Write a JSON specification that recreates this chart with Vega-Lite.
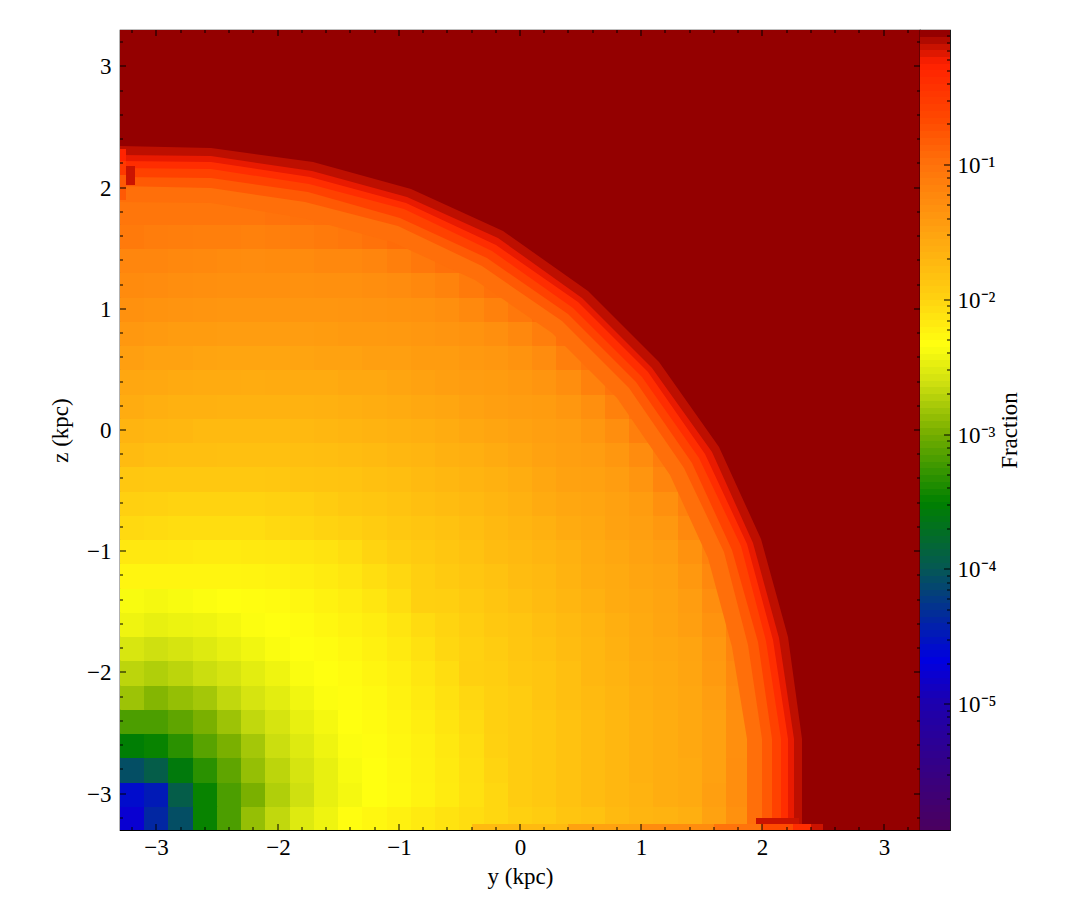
{"$schema":"https://vega.github.io/schema/vega-lite/v6.json","padding":{"left":48,"top":28,"right":5,"bottom":5},"background":"white","bounds":"flush","config":{"view":{"stroke":"#000","strokeWidth":1.2},"font":"Liberation Serif","axis":{"grid":false,"ticks":false,"labelFont":"Liberation Serif","titleFont":"Liberation Serif","labelFontSize":23,"titleFontSize":23,"titleFontWeight":"normal","labelColor":"#000","titleColor":"#000","domain":false,"labelFlush":false,"labelOverlap":false}},"spacing":0,"datasets":{"ticks":[
{"v":-3,"a":-3.3,"b":-3.25},{"v":-2,"a":-3.3,"b":-3.25},{"v":-1,"a":-3.3,"b":-3.25},{"v":0,"a":-3.3,"b":-3.25},{"v":1,"a":-3.3,"b":-3.25},{"v":2,"a":-3.3,"b":-3.25},{"v":3,"a":-3.3,"b":-3.25},
{"v":-3,"a":3.3,"b":3.25},{"v":-2,"a":3.3,"b":3.25},{"v":-1,"a":3.3,"b":3.25},{"v":0,"a":3.3,"b":3.25},{"v":1,"a":3.3,"b":3.25},{"v":2,"a":3.3,"b":3.25},{"v":3,"a":3.3,"b":3.25},
{"v":-3.2,"a":-3.3,"b":-3.275},{"v":-2.8,"a":-3.3,"b":-3.275},{"v":-2.6,"a":-3.3,"b":-3.275},{"v":-2.4,"a":-3.3,"b":-3.275},{"v":-2.2,"a":-3.3,"b":-3.275},{"v":-1.8,"a":-3.3,"b":-3.275},{"v":-1.6,"a":-3.3,"b":-3.275},{"v":-1.4,"a":-3.3,"b":-3.275},{"v":-1.2,"a":-3.3,"b":-3.275},{"v":-0.8,"a":-3.3,"b":-3.275},{"v":-0.6,"a":-3.3,"b":-3.275},{"v":-0.4,"a":-3.3,"b":-3.275},{"v":-0.2,"a":-3.3,"b":-3.275},{"v":0.2,"a":-3.3,"b":-3.275},{"v":0.4,"a":-3.3,"b":-3.275},{"v":0.6,"a":-3.3,"b":-3.275},{"v":0.8,"a":-3.3,"b":-3.275},{"v":1.2,"a":-3.3,"b":-3.275},{"v":1.4,"a":-3.3,"b":-3.275},{"v":1.6,"a":-3.3,"b":-3.275},{"v":1.8,"a":-3.3,"b":-3.275},{"v":2.2,"a":-3.3,"b":-3.275},{"v":2.4,"a":-3.3,"b":-3.275},{"v":2.6,"a":-3.3,"b":-3.275},{"v":2.8,"a":-3.3,"b":-3.275},{"v":3.2,"a":-3.3,"b":-3.275},
{"v":-3.2,"a":3.3,"b":3.275},{"v":-2.8,"a":3.3,"b":3.275},{"v":-2.6,"a":3.3,"b":3.275},{"v":-2.4,"a":3.3,"b":3.275},{"v":-2.2,"a":3.3,"b":3.275},{"v":-1.8,"a":3.3,"b":3.275},{"v":-1.6,"a":3.3,"b":3.275},{"v":-1.4,"a":3.3,"b":3.275},{"v":-1.2,"a":3.3,"b":3.275},{"v":-0.8,"a":3.3,"b":3.275},{"v":-0.6,"a":3.3,"b":3.275},{"v":-0.4,"a":3.3,"b":3.275},{"v":-0.2,"a":3.3,"b":3.275},{"v":0.2,"a":3.3,"b":3.275},{"v":0.4,"a":3.3,"b":3.275},{"v":0.6,"a":3.3,"b":3.275},{"v":0.8,"a":3.3,"b":3.275},{"v":1.2,"a":3.3,"b":3.275},{"v":1.4,"a":3.3,"b":3.275},{"v":1.6,"a":3.3,"b":3.275},{"v":1.8,"a":3.3,"b":3.275},{"v":2.2,"a":3.3,"b":3.275},{"v":2.4,"a":3.3,"b":3.275},{"v":2.6,"a":3.3,"b":3.275},{"v":2.8,"a":3.3,"b":3.275},{"v":3.2,"a":3.3,"b":3.275}
],"barticks":[
{"v":1e-5,"a":0.8},{"v":1e-4,"a":0.8},{"v":1e-3,"a":0.8},{"v":1e-2,"a":0.8},{"v":1e-1,"a":0.8},
{"v":2e-6,"a":0.9},{"v":3e-6,"a":0.9},{"v":4e-6,"a":0.9},{"v":5e-6,"a":0.9},{"v":6e-6,"a":0.9},{"v":7e-6,"a":0.9},{"v":8e-6,"a":0.9},{"v":9e-6,"a":0.9},{"v":2e-5,"a":0.9},{"v":3e-5,"a":0.9},{"v":4e-5,"a":0.9},{"v":5e-5,"a":0.9},{"v":6e-5,"a":0.9},{"v":7e-5,"a":0.9},{"v":8e-5,"a":0.9},{"v":9e-5,"a":0.9},{"v":2e-4,"a":0.9},{"v":3e-4,"a":0.9},{"v":4e-4,"a":0.9},{"v":5e-4,"a":0.9},{"v":6e-4,"a":0.9},{"v":7e-4,"a":0.9},{"v":8e-4,"a":0.9},{"v":9e-4,"a":0.9},{"v":2e-3,"a":0.9},{"v":3e-3,"a":0.9},{"v":4e-3,"a":0.9},{"v":5e-3,"a":0.9},{"v":6e-3,"a":0.9},{"v":7e-3,"a":0.9},{"v":8e-3,"a":0.9},{"v":9e-3,"a":0.9},{"v":2e-2,"a":0.9},{"v":3e-2,"a":0.9},{"v":4e-2,"a":0.9},{"v":5e-2,"a":0.9},{"v":6e-2,"a":0.9},{"v":7e-2,"a":0.9},{"v":8e-2,"a":0.9},{"v":9e-2,"a":0.9},{"v":0.2,"a":0.9},{"v":0.3,"a":0.9},{"v":0.4,"a":0.9},{"v":0.5,"a":0.9},{"v":0.6,"a":0.9},{"v":0.7,"a":0.9},{"v":0.8,"a":0.9},{"v":0.9,"a":0.9}
],"strips":[
{"y0":-3.3,"y1":-3.25,"z0":1.9,"z1":2.1,"f":0.15},{"y0":-3.3,"y1":-3.25,"z0":2.1,"z1":2.22,"f":0.3},{"y0":-3.3,"y1":-3.25,"z0":2.22,"z1":2.32,"f":0.5},{"y0":-3.25,"y1":-3.18,"z0":2.02,"z1":2.18,"f":0.7},
{"y0":-0.4,"y1":0.4,"z0":-3.3,"z1":-3.25,"f":0.017},{"y0":0.4,"y1":1,"z0":-3.3,"z1":-3.25,"f":0.03},{"y0":1,"y1":1.6,"z0":-3.3,"z1":-3.25,"f":0.05},{"y0":1.6,"y1":2,"z0":-3.3,"z1":-3.25,"f":0.09},{"y0":2,"y1":2.25,"z0":-3.3,"z1":-3.25,"f":0.2},{"y0":2.25,"y1":2.4,"z0":-3.3,"z1":-3.25,"f":0.4},{"y0":2.4,"y1":2.5,"z0":-3.3,"z1":-3.25,"f":0.7},{"y0":1.95,"y1":2.3,"z0":-3.25,"z1":-3.2,"f":0.7}
],"edge":[
{"y":1.87,"z":-3.3,"f":0.1},{"y":1.87,"z":-2.55,"f":0.1},{"y":1.75,"z":-1.79,"f":0.1},{"y":1.55,"z":-1.06,"f":0.1},{"y":1.24,"z":-0.37,"f":0.1},{"y":0.8,"z":0.26,"f":0.1},{"y":0.26,"z":0.8,"f":0.1},{"y":-0.37,"z":1.24,"f":0.1},{"y":-1.06,"z":1.55,"f":0.1},{"y":-1.79,"z":1.75,"f":0.1},{"y":-2.55,"z":1.87,"f":0.1},{"y":-3.3,"z":1.88,"f":0.1},{"y":-3.3,"z":3.3,"f":0.1},
{"y":2.0,"z":-3.3,"f":0.15},{"y":2.0,"z":-2.55,"f":0.15},{"y":1.88,"z":-1.77,"f":0.15},{"y":1.68,"z":-1.01,"f":0.15},{"y":1.35,"z":-0.31,"f":0.15},{"y":0.9,"z":0.35,"f":0.15},{"y":0.35,"z":0.9,"f":0.15},{"y":-0.31,"z":1.35,"f":0.15},{"y":-1.01,"z":1.68,"f":0.15},{"y":-1.77,"z":1.88,"f":0.15},{"y":-2.55,"z":2.0,"f":0.15},{"y":-3.3,"z":2.01,"f":0.15},{"y":-3.3,"z":3.3,"f":0.15},
{"y":2.08,"z":-3.3,"f":0.25},{"y":2.08,"z":-2.55,"f":0.25},{"y":1.96,"z":-1.75,"f":0.25},{"y":1.75,"z":-0.99,"f":0.25},{"y":1.42,"z":-0.27,"f":0.25},{"y":0.96,"z":0.4,"f":0.25},{"y":0.4,"z":0.96,"f":0.25},{"y":-0.27,"z":1.42,"f":0.25},{"y":-0.99,"z":1.75,"f":0.25},{"y":-1.75,"z":1.96,"f":0.25},{"y":-2.55,"z":2.08,"f":0.25},{"y":-3.3,"z":2.09,"f":0.25},{"y":-3.3,"z":3.3,"f":0.25},
{"y":2.15,"z":-3.3,"f":0.4},{"y":2.15,"z":-2.55,"f":0.4},{"y":2.03,"z":-1.74,"f":0.4},{"y":1.82,"z":-0.96,"f":0.4},{"y":1.48,"z":-0.23,"f":0.4},{"y":1.01,"z":0.44,"f":0.4},{"y":0.44,"z":1.01,"f":0.4},{"y":-0.23,"z":1.48,"f":0.4},{"y":-0.96,"z":1.82,"f":0.4},{"y":-1.74,"z":2.03,"f":0.4},{"y":-2.55,"z":2.15,"f":0.4},{"y":-3.3,"z":2.16,"f":0.4},{"y":-3.3,"z":3.3,"f":0.4},
{"y":2.21,"z":-3.3,"f":0.6},{"y":2.21,"z":-2.55,"f":0.6},{"y":2.09,"z":-1.73,"f":0.6},{"y":1.87,"z":-0.94,"f":0.6},{"y":1.53,"z":-0.2,"f":0.6},{"y":1.06,"z":0.48,"f":0.6},{"y":0.48,"z":1.06,"f":0.6},{"y":-0.2,"z":1.53,"f":0.6},{"y":-0.94,"z":1.87,"f":0.6},{"y":-1.73,"z":2.09,"f":0.6},{"y":-2.55,"z":2.21,"f":0.6},{"y":-3.3,"z":2.22,"f":0.6},{"y":-3.3,"z":3.3,"f":0.6},
{"y":2.26,"z":-3.3,"f":0.75},{"y":2.26,"z":-2.55,"f":0.75},{"y":2.14,"z":-1.72,"f":0.75},{"y":1.92,"z":-0.93,"f":0.75},{"y":1.58,"z":-0.18,"f":0.75},{"y":1.09,"z":0.51,"f":0.75},{"y":0.51,"z":1.09,"f":0.75},{"y":-0.18,"z":1.58,"f":0.75},{"y":-0.93,"z":1.92,"f":0.75},{"y":-1.72,"z":2.14,"f":0.75},{"y":-2.55,"z":2.26,"f":0.75},{"y":-3.3,"z":2.27,"f":0.75},{"y":-3.3,"z":3.3,"f":0.75},
{"y":2.33,"z":-3.3,"f":0.9},{"y":2.33,"z":-2.55,"f":0.9},{"y":2.21,"z":-1.71,"f":0.9},{"y":1.99,"z":-0.9,"f":0.9},{"y":1.64,"z":-0.14,"f":0.9},{"y":1.15,"z":0.56,"f":0.9},{"y":0.56,"z":1.15,"f":0.9},{"y":-0.14,"z":1.64,"f":0.9},{"y":-0.9,"z":1.99,"f":0.9},{"y":-1.71,"z":2.21,"f":0.9},{"y":-2.55,"z":2.33,"f":0.9},{"y":-3.3,"z":2.34,"f":0.9},{"y":-3.3,"z":3.3,"f":0.9}
],"bar":[
{"lo":1.17e-6,"hi":1.26e-6},{"lo":1.26e-6,"hi":1.41e-6},{"lo":1.41e-6,"hi":1.58e-6},{"lo":1.58e-6,"hi":1.78e-6},{"lo":1.78e-6,"hi":2e-6},{"lo":2e-6,"hi":2.24e-6},{"lo":2.24e-6,"hi":2.51e-6},{"lo":2.51e-6,"hi":2.82e-6},{"lo":2.82e-6,"hi":3.16e-6},{"lo":3.16e-6,"hi":3.55e-6},{"lo":3.55e-6,"hi":3.98e-6},{"lo":3.98e-6,"hi":4.47e-6},{"lo":4.47e-6,"hi":5.01e-6},{"lo":5.01e-6,"hi":5.62e-6},{"lo":5.62e-6,"hi":6.31e-6},{"lo":6.31e-6,"hi":7.08e-6},{"lo":7.08e-6,"hi":7.94e-6},{"lo":7.94e-6,"hi":8.91e-6},{"lo":8.91e-6,"hi":1e-5},
{"lo":1e-5,"hi":1.12e-5},{"lo":1.12e-5,"hi":1.26e-5},{"lo":1.26e-5,"hi":1.41e-5},{"lo":1.41e-5,"hi":1.58e-5},{"lo":1.58e-5,"hi":1.78e-5},{"lo":1.78e-5,"hi":2e-5},{"lo":2e-5,"hi":2.24e-5},{"lo":2.24e-5,"hi":2.51e-5},{"lo":2.51e-5,"hi":2.82e-5},{"lo":2.82e-5,"hi":3.16e-5},{"lo":3.16e-5,"hi":3.55e-5},{"lo":3.55e-5,"hi":3.98e-5},{"lo":3.98e-5,"hi":4.47e-5},{"lo":4.47e-5,"hi":5.01e-5},{"lo":5.01e-5,"hi":5.62e-5},{"lo":5.62e-5,"hi":6.31e-5},{"lo":6.31e-5,"hi":7.08e-5},{"lo":7.08e-5,"hi":7.94e-5},{"lo":7.94e-5,"hi":8.91e-5},{"lo":8.91e-5,"hi":1e-4},
{"lo":1e-4,"hi":1.12e-4},{"lo":1.12e-4,"hi":1.26e-4},{"lo":1.26e-4,"hi":1.41e-4},{"lo":1.41e-4,"hi":1.58e-4},{"lo":1.58e-4,"hi":1.78e-4},{"lo":1.78e-4,"hi":2e-4},{"lo":2e-4,"hi":2.24e-4},{"lo":2.24e-4,"hi":2.51e-4},{"lo":2.51e-4,"hi":2.82e-4},{"lo":2.82e-4,"hi":3.16e-4},{"lo":3.16e-4,"hi":3.55e-4},{"lo":3.55e-4,"hi":3.98e-4},{"lo":3.98e-4,"hi":4.47e-4},{"lo":4.47e-4,"hi":5.01e-4},{"lo":5.01e-4,"hi":5.62e-4},{"lo":5.62e-4,"hi":6.31e-4},{"lo":6.31e-4,"hi":7.08e-4},{"lo":7.08e-4,"hi":7.94e-4},{"lo":7.94e-4,"hi":8.91e-4},{"lo":8.91e-4,"hi":1e-3},
{"lo":1e-3,"hi":1.12e-3},{"lo":1.12e-3,"hi":1.26e-3},{"lo":1.26e-3,"hi":1.41e-3},{"lo":1.41e-3,"hi":1.58e-3},{"lo":1.58e-3,"hi":1.78e-3},{"lo":1.78e-3,"hi":2e-3},{"lo":2e-3,"hi":2.24e-3},{"lo":2.24e-3,"hi":2.51e-3},{"lo":2.51e-3,"hi":2.82e-3},{"lo":2.82e-3,"hi":3.16e-3},{"lo":3.16e-3,"hi":3.55e-3},{"lo":3.55e-3,"hi":3.98e-3},{"lo":3.98e-3,"hi":4.47e-3},{"lo":4.47e-3,"hi":5.01e-3},{"lo":5.01e-3,"hi":5.62e-3},{"lo":5.62e-3,"hi":6.31e-3},{"lo":6.31e-3,"hi":7.08e-3},{"lo":7.08e-3,"hi":7.94e-3},{"lo":7.94e-3,"hi":8.91e-3},{"lo":8.91e-3,"hi":1e-2},
{"lo":1e-2,"hi":1.12e-2},{"lo":1.12e-2,"hi":1.26e-2},{"lo":1.26e-2,"hi":1.41e-2},{"lo":1.41e-2,"hi":1.58e-2},{"lo":1.58e-2,"hi":1.78e-2},{"lo":1.78e-2,"hi":2e-2},{"lo":2e-2,"hi":2.24e-2},{"lo":2.24e-2,"hi":2.51e-2},{"lo":2.51e-2,"hi":2.82e-2},{"lo":2.82e-2,"hi":3.16e-2},{"lo":3.16e-2,"hi":3.55e-2},{"lo":3.55e-2,"hi":3.98e-2},{"lo":3.98e-2,"hi":4.47e-2},{"lo":4.47e-2,"hi":5.01e-2},{"lo":5.01e-2,"hi":5.62e-2},{"lo":5.62e-2,"hi":6.31e-2},{"lo":6.31e-2,"hi":7.08e-2},{"lo":7.08e-2,"hi":7.94e-2},{"lo":7.94e-2,"hi":8.91e-2},{"lo":8.91e-2,"hi":0.1},
{"lo":0.1,"hi":0.112},{"lo":0.112,"hi":0.126},{"lo":0.126,"hi":0.141},{"lo":0.141,"hi":0.158},{"lo":0.158,"hi":0.178},{"lo":0.178,"hi":0.2},{"lo":0.2,"hi":0.224},{"lo":0.224,"hi":0.251},{"lo":0.251,"hi":0.282},{"lo":0.282,"hi":0.316},{"lo":0.316,"hi":0.355},{"lo":0.355,"hi":0.398},{"lo":0.398,"hi":0.447},{"lo":0.447,"hi":0.501},{"lo":0.501,"hi":0.562},{"lo":0.562,"hi":0.631},{"lo":0.631,"hi":0.708},{"lo":0.708,"hi":0.794},{"lo":0.794,"hi":0.891},{"lo":0.891,"hi":1}
],"cells":[
{"y":-3.2,"z":-3.2,"f":1.6e-5},{"y":-3,"z":-3.2,"f":4e-5},{"y":-2.8,"z":-3.2,"f":8e-5},{"y":-2.6,"z":-3.2,"f":3.2e-4},{"y":-2.4,"z":-3.2,"f":6.3e-4},{"y":-2.2,"z":-3.2,"f":0.0013},{"y":-2,"z":-3.2,"f":0.002},{"y":-1.8,"z":-3.2,"f":0.0028},{"y":-1.6,"z":-3.2,"f":0.0035},{"y":-1.4,"z":-3.2,"f":0.0045},{"y":-1.2,"z":-3.2,"f":0.005},{"y":-1,"z":-3.2,"f":0.0056},{"y":-0.8,"z":-3.2,"f":0.0063},{"y":-0.6,"z":-3.2,"f":0.0071},{"y":-0.4,"z":-3.2,"f":0.0079},{"y":-0.2,"z":-3.2,"f":0.0089},{"y":0,"z":-3.2,"f":0.01},{"y":0.2,"z":-3.2,"f":0.011},{"y":0.4,"z":-3.2,"f":0.013},{"y":0.6,"z":-3.2,"f":0.014},{"y":0.8,"z":-3.2,"f":0.017},{"y":1,"z":-3.2,"f":0.019},{"y":1.2,"z":-3.2,"f":0.02},{"y":1.4,"z":-3.2,"f":0.022},{"y":1.6,"z":-3.2,"f":0.03},{"y":1.8,"z":-3.2,"f":0.045},
{"y":-3.2,"z":-3,"f":2.5e-5},{"y":-3,"z":-3,"f":3.2e-5},{"y":-2.8,"z":-3,"f":1.1e-4},{"y":-2.6,"z":-3,"f":3.2e-4},{"y":-2.4,"z":-3,"f":6.3e-4},{"y":-2.2,"z":-3,"f":0.001},{"y":-2,"z":-3,"f":0.0017},{"y":-1.8,"z":-3,"f":0.0023},{"y":-1.6,"z":-3,"f":0.0032},{"y":-1.4,"z":-3,"f":0.0038},{"y":-1.2,"z":-3,"f":0.0044},{"y":-1,"z":-3,"f":0.0048},{"y":-0.8,"z":-3,"f":0.0054},{"y":-0.6,"z":-3,"f":0.0062},{"y":-0.4,"z":-3,"f":0.0074},{"y":-0.2,"z":-3,"f":0.0089},{"y":0,"z":-3,"f":0.011},{"y":0.2,"z":-3,"f":0.012},{"y":0.4,"z":-3,"f":0.014},{"y":0.6,"z":-3,"f":0.016},{"y":0.8,"z":-3,"f":0.018},{"y":1,"z":-3,"f":0.02},{"y":1.2,"z":-3,"f":0.023},{"y":1.4,"z":-3,"f":0.025},{"y":1.6,"z":-3,"f":0.032},{"y":1.8,"z":-3,"f":0.048},
{"y":-3.2,"z":-2.8,"f":8e-5},{"y":-3,"z":-2.8,"f":1.1e-4},{"y":-2.8,"z":-2.8,"f":2.5e-4},{"y":-2.6,"z":-2.8,"f":4.5e-4},{"y":-2.4,"z":-2.8,"f":7.6e-4},{"y":-2.2,"z":-2.8,"f":0.0013},{"y":-2,"z":-2.8,"f":0.0019},{"y":-1.8,"z":-2.8,"f":0.0025},{"y":-1.6,"z":-2.8,"f":0.0032},{"y":-1.4,"z":-2.8,"f":0.004},{"y":-1.2,"z":-2.8,"f":0.0044},{"y":-1,"z":-2.8,"f":0.0049},{"y":-0.8,"z":-2.8,"f":0.0055},{"y":-0.6,"z":-2.8,"f":0.0063},{"y":-0.4,"z":-2.8,"f":0.0076},{"y":-0.2,"z":-2.8,"f":0.0093},{"y":0,"z":-2.8,"f":0.011},{"y":0.2,"z":-2.8,"f":0.012},{"y":0.4,"z":-2.8,"f":0.014},{"y":0.6,"z":-2.8,"f":0.016},{"y":0.8,"z":-2.8,"f":0.018},{"y":1,"z":-2.8,"f":0.021},{"y":1.2,"z":-2.8,"f":0.023},{"y":1.4,"z":-2.8,"f":0.025},{"y":1.6,"z":-2.8,"f":0.031},{"y":1.8,"z":-2.8,"f":0.048},
{"y":-3.2,"z":-2.6,"f":2.8e-4},{"y":-3,"z":-2.6,"f":3.2e-4},{"y":-2.8,"z":-2.6,"f":4.5e-4},{"y":-2.6,"z":-2.6,"f":7.1e-4},{"y":-2.4,"z":-2.6,"f":0.001},{"y":-2.2,"z":-2.6,"f":0.0015},{"y":-2,"z":-2.6,"f":0.0022},{"y":-1.8,"z":-2.6,"f":0.0028},{"y":-1.6,"z":-2.6,"f":0.0035},{"y":-1.4,"z":-2.6,"f":0.0042},{"y":-1.2,"z":-2.6,"f":0.0045},{"y":-1,"z":-2.6,"f":0.005},{"y":-0.8,"z":-2.6,"f":0.0056},{"y":-0.6,"z":-2.6,"f":0.0066},{"y":-0.4,"z":-2.6,"f":0.0078},{"y":-0.2,"z":-2.6,"f":0.0098},{"y":0,"z":-2.6,"f":0.011},{"y":0.2,"z":-2.6,"f":0.012},{"y":0.4,"z":-2.6,"f":0.014},{"y":0.6,"z":-2.6,"f":0.016},{"y":0.8,"z":-2.6,"f":0.018},{"y":1,"z":-2.6,"f":0.021},{"y":1.2,"z":-2.6,"f":0.023},{"y":1.4,"z":-2.6,"f":0.026},{"y":1.6,"z":-2.6,"f":0.031},{"y":1.8,"z":-2.6,"f":0.047},
{"y":-3.2,"z":-2.4,"f":6.3e-4},{"y":-3,"z":-2.4,"f":6.3e-4},{"y":-2.8,"z":-2.4,"f":7.6e-4},{"y":-2.6,"z":-2.4,"f":0.001},{"y":-2.4,"z":-2.4,"f":0.0014},{"y":-2.2,"z":-2.4,"f":0.002},{"y":-2,"z":-2.4,"f":0.0025},{"y":-1.8,"z":-2.4,"f":0.0032},{"y":-1.6,"z":-2.4,"f":0.0038},{"y":-1.4,"z":-2.4,"f":0.0044},{"y":-1.2,"z":-2.4,"f":0.0047},{"y":-1,"z":-2.4,"f":0.0052},{"y":-0.8,"z":-2.4,"f":0.0059},{"y":-0.6,"z":-2.4,"f":0.0069},{"y":-0.4,"z":-2.4,"f":0.0083},{"y":-0.2,"z":-2.4,"f":0.01},{"y":0,"z":-2.4,"f":0.011},{"y":0.2,"z":-2.4,"f":0.012},{"y":0.4,"z":-2.4,"f":0.014},{"y":0.6,"z":-2.4,"f":0.016},{"y":0.8,"z":-2.4,"f":0.018},{"y":1,"z":-2.4,"f":0.021},{"y":1.2,"z":-2.4,"f":0.023},{"y":1.4,"z":-2.4,"f":0.026},{"y":1.6,"z":-2.4,"f":0.031},{"y":1.8,"z":-2.4,"f":0.047},
{"y":-3.2,"z":-2.2,"f":0.0014},{"y":-3,"z":-2.2,"f":0.0011},{"y":-2.8,"z":-2.2,"f":0.0013},{"y":-2.6,"z":-2.2,"f":0.0015},{"y":-2.4,"z":-2.2,"f":0.002},{"y":-2.2,"z":-2.2,"f":0.0025},{"y":-2,"z":-2.2,"f":0.003},{"y":-1.8,"z":-2.2,"f":0.0036},{"y":-1.6,"z":-2.2,"f":0.0042},{"y":-1.4,"z":-2.2,"f":0.0045},{"y":-1.2,"z":-2.2,"f":0.0049},{"y":-1,"z":-2.2,"f":0.0055},{"y":-0.8,"z":-2.2,"f":0.0063},{"y":-0.6,"z":-2.2,"f":0.0074},{"y":-0.4,"z":-2.2,"f":0.0089},{"y":-0.2,"z":-2.2,"f":0.01},{"y":0,"z":-2.2,"f":0.011},{"y":0.2,"z":-2.2,"f":0.013},{"y":0.4,"z":-2.2,"f":0.015},{"y":0.6,"z":-2.2,"f":0.017},{"y":0.8,"z":-2.2,"f":0.019},{"y":1,"z":-2.2,"f":0.022},{"y":1.2,"z":-2.2,"f":0.024},{"y":1.4,"z":-2.2,"f":0.027},{"y":1.6,"z":-2.2,"f":0.033},{"y":1.8,"z":-2.2,"f":0.05},
{"y":-3.2,"z":-2,"f":0.0019},{"y":-3,"z":-2,"f":0.0017},{"y":-2.8,"z":-2,"f":0.0019},{"y":-2.6,"z":-2,"f":0.0022},{"y":-2.4,"z":-2,"f":0.0025},{"y":-2.2,"z":-2,"f":0.003},{"y":-2,"z":-2,"f":0.0035},{"y":-1.8,"z":-2,"f":0.0041},{"y":-1.6,"z":-2,"f":0.0044},{"y":-1.4,"z":-2,"f":0.0047},{"y":-1.2,"z":-2,"f":0.0052},{"y":-1,"z":-2,"f":0.0058},{"y":-0.8,"z":-2,"f":0.0068},{"y":-0.6,"z":-2,"f":0.0079},{"y":-0.4,"z":-2,"f":0.01},{"y":-0.2,"z":-2,"f":0.0105},{"y":0,"z":-2,"f":0.012},{"y":0.2,"z":-2,"f":0.013},{"y":0.4,"z":-2,"f":0.015},{"y":0.6,"z":-2,"f":0.018},{"y":0.8,"z":-2,"f":0.02},{"y":1,"z":-2,"f":0.023},{"y":1.2,"z":-2,"f":0.025},{"y":1.4,"z":-2,"f":0.028},{"y":1.6,"z":-2,"f":0.036},{"y":1.8,"z":-2,"f":0.054},
{"y":-3.2,"z":-1.8,"f":0.0026},{"y":-3,"z":-1.8,"f":0.0023},{"y":-2.8,"z":-1.8,"f":0.0025},{"y":-2.6,"z":-1.8,"f":0.0028},{"y":-2.4,"z":-1.8,"f":0.0032},{"y":-2.2,"z":-1.8,"f":0.0036},{"y":-2,"z":-1.8,"f":0.0041},{"y":-1.8,"z":-1.8,"f":0.0044},{"y":-1.6,"z":-1.8,"f":0.0046},{"y":-1.4,"z":-1.8,"f":0.005},{"y":-1.2,"z":-1.8,"f":0.0056},{"y":-1,"z":-1.8,"f":0.0063},{"y":-0.8,"z":-1.8,"f":0.0074},{"y":-0.6,"z":-1.8,"f":0.0089},{"y":-0.4,"z":-1.8,"f":0.0098},{"y":-0.2,"z":-1.8,"f":0.011},{"y":0,"z":-1.8,"f":0.0126},{"y":0.2,"z":-1.8,"f":0.014},{"y":0.4,"z":-1.8,"f":0.016},{"y":0.6,"z":-1.8,"f":0.018},{"y":0.8,"z":-1.8,"f":0.021},{"y":1,"z":-1.8,"f":0.024},{"y":1.2,"z":-1.8,"f":0.026},{"y":1.4,"z":-1.8,"f":0.029},{"y":1.6,"z":-1.8,"f":0.038},{"y":1.8,"z":-1.8,"f":0.059},
{"y":-3.2,"z":-1.6,"f":0.0035},{"y":-3,"z":-1.6,"f":0.0032},{"y":-2.8,"z":-1.6,"f":0.0034},{"y":-2.6,"z":-1.6,"f":0.0035},{"y":-2.4,"z":-1.6,"f":0.0038},{"y":-2.2,"z":-1.6,"f":0.0042},{"y":-2,"z":-1.6,"f":0.0044},{"y":-1.8,"z":-1.6,"f":0.0046},{"y":-1.6,"z":-1.6,"f":0.005},{"y":-1.4,"z":-1.6,"f":0.0055},{"y":-1.2,"z":-1.6,"f":0.006},{"y":-1,"z":-1.6,"f":0.0069},{"y":-0.8,"z":-1.6,"f":0.0083},{"y":-0.6,"z":-1.6,"f":0.0093},{"y":-0.4,"z":-1.6,"f":0.0105},{"y":-0.2,"z":-1.6,"f":0.012},{"y":0,"z":-1.6,"f":0.013},{"y":0.2,"z":-1.6,"f":0.015},{"y":0.4,"z":-1.6,"f":0.017},{"y":0.6,"z":-1.6,"f":0.019},{"y":0.8,"z":-1.6,"f":0.022},{"y":1,"z":-1.6,"f":0.025},{"y":1.2,"z":-1.6,"f":0.028},{"y":1.4,"z":-1.6,"f":0.032},{"y":1.6,"z":-1.6,"f":0.043},{"y":1.8,"z":-1.6,"f":0.065},
{"y":-3.2,"z":-1.4,"f":0.004},{"y":-3,"z":-1.4,"f":0.0038},{"y":-2.8,"z":-1.4,"f":0.004},{"y":-2.6,"z":-1.4,"f":0.0042},{"y":-2.4,"z":-1.4,"f":0.0044},{"y":-2.2,"z":-1.4,"f":0.0045},{"y":-2,"z":-1.4,"f":0.0047},{"y":-1.8,"z":-1.4,"f":0.005},{"y":-1.6,"z":-1.4,"f":0.0055},{"y":-1.4,"z":-1.4,"f":0.006},{"y":-1.2,"z":-1.4,"f":0.0068},{"y":-1,"z":-1.4,"f":0.0079},{"y":-0.8,"z":-1.4,"f":0.01},{"y":-0.6,"z":-1.4,"f":0.0102},{"y":-0.4,"z":-1.4,"f":0.0115},{"y":-0.2,"z":-1.4,"f":0.013},{"y":0,"z":-1.4,"f":0.0145},{"y":0.2,"z":-1.4,"f":0.0166},{"y":0.4,"z":-1.4,"f":0.0186},{"y":0.6,"z":-1.4,"f":0.021},{"y":0.8,"z":-1.4,"f":0.024},{"y":1,"z":-1.4,"f":0.026},{"y":1.2,"z":-1.4,"f":0.029},{"y":1.4,"z":-1.4,"f":0.034},{"y":1.6,"z":-1.4,"f":0.048},{"y":1.8,"z":-1.4,"f":0.074},
{"y":-3.2,"z":-1.2,"f":0.0052},{"y":-3,"z":-1.2,"f":0.0052},{"y":-2.8,"z":-1.2,"f":0.0052},{"y":-2.6,"z":-1.2,"f":0.0052},{"y":-2.4,"z":-1.2,"f":0.0052},{"y":-2.2,"z":-1.2,"f":0.0053},{"y":-2,"z":-1.2,"f":0.0055},{"y":-1.8,"z":-1.2,"f":0.0058},{"y":-1.6,"z":-1.2,"f":0.0062},{"y":-1.4,"z":-1.2,"f":0.0068},{"y":-1.2,"z":-1.2,"f":0.0078},{"y":-1,"z":-1.2,"f":0.0089},{"y":-0.8,"z":-1.2,"f":0.0102},{"y":-0.6,"z":-1.2,"f":0.0115},{"y":-0.4,"z":-1.2,"f":0.0126},{"y":-0.2,"z":-1.2,"f":0.014},{"y":0,"z":-1.2,"f":0.016},{"y":0.2,"z":-1.2,"f":0.0174},{"y":0.4,"z":-1.2,"f":0.02},{"y":0.6,"z":-1.2,"f":0.023},{"y":0.8,"z":-1.2,"f":0.025},{"y":1,"z":-1.2,"f":0.028},{"y":1.2,"z":-1.2,"f":0.03},{"y":1.4,"z":-1.2,"f":0.038},{"y":1.6,"z":-1.2,"f":0.056},{"y":1.8,"z":-1.2,"f":0.08},
{"y":-3.2,"z":-1,"f":0.0066},{"y":-3,"z":-1,"f":0.0066},{"y":-2.8,"z":-1,"f":0.0064},{"y":-2.6,"z":-1,"f":0.0062},{"y":-2.4,"z":-1,"f":0.0062},{"y":-2.2,"z":-1,"f":0.0064},{"y":-2,"z":-1,"f":0.0066},{"y":-1.8,"z":-1,"f":0.0068},{"y":-1.6,"z":-1,"f":0.0072},{"y":-1.4,"z":-1,"f":0.0079},{"y":-1.2,"z":-1,"f":0.0093},{"y":-1,"z":-1,"f":0.0105},{"y":-0.8,"z":-1,"f":0.0115},{"y":-0.6,"z":-1,"f":0.0126},{"y":-0.4,"z":-1,"f":0.014},{"y":-0.2,"z":-1,"f":0.016},{"y":0,"z":-1,"f":0.0174},{"y":0.2,"z":-1,"f":0.019},{"y":0.4,"z":-1,"f":0.021},{"y":0.6,"z":-1,"f":0.0245},{"y":0.8,"z":-1,"f":0.027},{"y":1,"z":-1,"f":0.03},{"y":1.2,"z":-1,"f":0.033},{"y":1.4,"z":-1,"f":0.044},{"y":1.6,"z":-1,"f":0.066},
{"y":-3.2,"z":-0.8,"f":0.0085},{"y":-3,"z":-0.8,"f":0.0082},{"y":-2.8,"z":-0.8,"f":0.008},{"y":-2.6,"z":-0.8,"f":0.008},{"y":-2.4,"z":-0.8,"f":0.008},{"y":-2.2,"z":-0.8,"f":0.008},{"y":-2,"z":-0.8,"f":0.0085},{"y":-1.8,"z":-0.8,"f":0.0089},{"y":-1.6,"z":-0.8,"f":0.0095},{"y":-1.4,"z":-0.8,"f":0.01},{"y":-1.2,"z":-0.8,"f":0.011},{"y":-1,"z":-0.8,"f":0.012},{"y":-0.8,"z":-0.8,"f":0.0129},{"y":-0.6,"z":-0.8,"f":0.014},{"y":-0.4,"z":-0.8,"f":0.0155},{"y":-0.2,"z":-0.8,"f":0.0174},{"y":0,"z":-0.8,"f":0.019},{"y":0.2,"z":-0.8,"f":0.021},{"y":0.4,"z":-0.8,"f":0.024},{"y":0.6,"z":-0.8,"f":0.026},{"y":0.8,"z":-0.8,"f":0.03},{"y":1,"z":-0.8,"f":0.032},{"y":1.2,"z":-0.8,"f":0.038},{"y":1.4,"z":-0.8,"f":0.054},{"y":1.6,"z":-0.8,"f":0.08},
{"y":-3.2,"z":-0.6,"f":0.01},{"y":-3,"z":-0.6,"f":0.0098},{"y":-2.8,"z":-0.6,"f":0.0095},{"y":-2.6,"z":-0.6,"f":0.0095},{"y":-2.4,"z":-0.6,"f":0.0095},{"y":-2.2,"z":-0.6,"f":0.0095},{"y":-2,"z":-0.6,"f":0.0098},{"y":-1.8,"z":-0.6,"f":0.01},{"y":-1.6,"z":-0.6,"f":0.011},{"y":-1.4,"z":-0.6,"f":0.012},{"y":-1.2,"z":-0.6,"f":0.0126},{"y":-1,"z":-0.6,"f":0.0138},{"y":-0.8,"z":-0.6,"f":0.015},{"y":-0.6,"z":-0.6,"f":0.016},{"y":-0.4,"z":-0.6,"f":0.0174},{"y":-0.2,"z":-0.6,"f":0.019},{"y":0,"z":-0.6,"f":0.021},{"y":0.2,"z":-0.6,"f":0.024},{"y":0.4,"z":-0.6,"f":0.027},{"y":0.6,"z":-0.6,"f":0.028},{"y":0.8,"z":-0.6,"f":0.031},{"y":1,"z":-0.6,"f":0.035},{"y":1.2,"z":-0.6,"f":0.046},{"y":1.4,"z":-0.6,"f":0.066},
{"y":-3.2,"z":-0.4,"f":0.0125},{"y":-3,"z":-0.4,"f":0.012},{"y":-2.8,"z":-0.4,"f":0.012},{"y":-2.6,"z":-0.4,"f":0.012},{"y":-2.4,"z":-0.4,"f":0.012},{"y":-2.2,"z":-0.4,"f":0.012},{"y":-2,"z":-0.4,"f":0.0125},{"y":-1.8,"z":-0.4,"f":0.013},{"y":-1.6,"z":-0.4,"f":0.0132},{"y":-1.4,"z":-0.4,"f":0.0138},{"y":-1.2,"z":-0.4,"f":0.0145},{"y":-1,"z":-0.4,"f":0.0155},{"y":-0.8,"z":-0.4,"f":0.017},{"y":-0.6,"z":-0.4,"f":0.018},{"y":-0.4,"z":-0.4,"f":0.0195},{"y":-0.2,"z":-0.4,"f":0.021},{"y":0,"z":-0.4,"f":0.023},{"y":0.2,"z":-0.4,"f":0.027},{"y":0.4,"z":-0.4,"f":0.03},{"y":0.6,"z":-0.4,"f":0.031},{"y":0.8,"z":-0.4,"f":0.034},{"y":1,"z":-0.4,"f":0.041},{"y":1.2,"z":-0.4,"f":0.059},{"y":1.4,"z":-0.4,"f":0.085},
{"y":-3.2,"z":-0.2,"f":0.0166},{"y":-3,"z":-0.2,"f":0.0155},{"y":-2.8,"z":-0.2,"f":0.015},{"y":-2.6,"z":-0.2,"f":0.015},{"y":-2.4,"z":-0.2,"f":0.0145},{"y":-2.2,"z":-0.2,"f":0.0145},{"y":-2,"z":-0.2,"f":0.0145},{"y":-1.8,"z":-0.2,"f":0.015},{"y":-1.6,"z":-0.2,"f":0.0155},{"y":-1.4,"z":-0.2,"f":0.016},{"y":-1.2,"z":-0.2,"f":0.017},{"y":-1,"z":-0.2,"f":0.018},{"y":-0.8,"z":-0.2,"f":0.019},{"y":-0.6,"z":-0.2,"f":0.021},{"y":-0.4,"z":-0.2,"f":0.022},{"y":-0.2,"z":-0.2,"f":0.0245},{"y":0,"z":-0.2,"f":0.027},{"y":0.2,"z":-0.2,"f":0.03},{"y":0.4,"z":-0.2,"f":0.032},{"y":0.6,"z":-0.2,"f":0.034},{"y":0.8,"z":-0.2,"f":0.039},{"y":1,"z":-0.2,"f":0.051},{"y":1.2,"z":-0.2,"f":0.072},
{"y":-3.2,"z":0,"f":0.0195},{"y":-3,"z":0,"f":0.0186},{"y":-2.8,"z":0,"f":0.018},{"y":-2.6,"z":0,"f":0.017},{"y":-2.4,"z":0,"f":0.017},{"y":-2.2,"z":0,"f":0.017},{"y":-2,"z":0,"f":0.017},{"y":-1.8,"z":0,"f":0.0174},{"y":-1.6,"z":0,"f":0.018},{"y":-1.4,"z":0,"f":0.019},{"y":-1.2,"z":0,"f":0.02},{"y":-1,"z":0,"f":0.021},{"y":-0.8,"z":0,"f":0.022},{"y":-0.6,"z":0,"f":0.0235},{"y":-0.4,"z":0,"f":0.026},{"y":-0.2,"z":0,"f":0.028},{"y":0,"z":0,"f":0.03},{"y":0.2,"z":0,"f":0.032},{"y":0.4,"z":0,"f":0.034},{"y":0.6,"z":0,"f":0.039},{"y":0.8,"z":0,"f":0.048},{"y":1,"z":0,"f":0.068},{"y":1.2,"z":0,"f":0.09},
{"y":-3.2,"z":0.2,"f":0.0235},{"y":-3,"z":0.2,"f":0.022},{"y":-2.8,"z":0.2,"f":0.021},{"y":-2.6,"z":0.2,"f":0.021},{"y":-2.4,"z":0.2,"f":0.0205},{"y":-2.2,"z":0.2,"f":0.0205},{"y":-2,"z":0.2,"f":0.0205},{"y":-1.8,"z":0.2,"f":0.0205},{"y":-1.6,"z":0.2,"f":0.021},{"y":-1.4,"z":0.2,"f":0.022},{"y":-1.2,"z":0.2,"f":0.023},{"y":-1,"z":0.2,"f":0.024},{"y":-0.8,"z":0.2,"f":0.026},{"y":-0.6,"z":0.2,"f":0.0275},{"y":-0.4,"z":0.2,"f":0.03},{"y":-0.2,"z":0.2,"f":0.032},{"y":0,"z":0.2,"f":0.034},{"y":0.2,"z":0.2,"f":0.035},{"y":0.4,"z":0.2,"f":0.039},{"y":0.6,"z":0.2,"f":0.047},{"y":0.8,"z":0.2,"f":0.065},{"y":1,"z":0.2,"f":0.09},
{"y":-3.2,"z":0.4,"f":0.027},{"y":-3,"z":0.4,"f":0.026},{"y":-2.8,"z":0.4,"f":0.025},{"y":-2.6,"z":0.4,"f":0.0245},{"y":-2.4,"z":0.4,"f":0.024},{"y":-2.2,"z":0.4,"f":0.0235},{"y":-2,"z":0.4,"f":0.024},{"y":-1.8,"z":0.4,"f":0.024},{"y":-1.6,"z":0.4,"f":0.0245},{"y":-1.4,"z":0.4,"f":0.026},{"y":-1.2,"z":0.4,"f":0.026},{"y":-1,"z":0.4,"f":0.028},{"y":-0.8,"z":0.4,"f":0.03},{"y":-0.6,"z":0.4,"f":0.032},{"y":-0.4,"z":0.4,"f":0.034},{"y":-0.2,"z":0.4,"f":0.035},{"y":0,"z":0.4,"f":0.037},{"y":0.2,"z":0.4,"f":0.041},{"y":0.4,"z":0.4,"f":0.048},{"y":0.6,"z":0.4,"f":0.065},{"y":0.8,"z":0.4,"f":0.089},
{"y":-3.2,"z":0.6,"f":0.032},{"y":-3,"z":0.6,"f":0.03},{"y":-2.8,"z":0.6,"f":0.03},{"y":-2.6,"z":0.6,"f":0.029},{"y":-2.4,"z":0.6,"f":0.028},{"y":-2.2,"z":0.6,"f":0.028},{"y":-2,"z":0.6,"f":0.028},{"y":-1.8,"z":0.6,"f":0.029},{"y":-1.6,"z":0.6,"f":0.03},{"y":-1.4,"z":0.6,"f":0.03},{"y":-1.2,"z":0.6,"f":0.032},{"y":-1,"z":0.6,"f":0.032},{"y":-0.8,"z":0.6,"f":0.035},{"y":-0.6,"z":0.6,"f":0.035},{"y":-0.4,"z":0.6,"f":0.037},{"y":-0.2,"z":0.6,"f":0.039},{"y":0,"z":0.6,"f":0.043},{"y":0.2,"z":0.6,"f":0.051},{"y":0.4,"z":0.6,"f":0.068},{"y":0.6,"z":0.6,"f":0.089},
{"y":-3.2,"z":0.8,"f":0.038},{"y":-3,"z":0.8,"f":0.036},{"y":-2.8,"z":0.8,"f":0.035},{"y":-2.6,"z":0.8,"f":0.035},{"y":-2.4,"z":0.8,"f":0.034},{"y":-2.2,"z":0.8,"f":0.034},{"y":-2,"z":0.8,"f":0.034},{"y":-1.8,"z":0.8,"f":0.034},{"y":-1.6,"z":0.8,"f":0.035},{"y":-1.4,"z":0.8,"f":0.036},{"y":-1.2,"z":0.8,"f":0.036},{"y":-1,"z":0.8,"f":0.037},{"y":-0.8,"z":0.8,"f":0.039},{"y":-0.6,"z":0.8,"f":0.041},{"y":-0.4,"z":0.8,"f":0.043},{"y":-0.2,"z":0.8,"f":0.047},{"y":0,"z":0.8,"f":0.055},{"y":0.2,"z":0.8,"f":0.071},{"y":0.4,"z":0.8,"f":0.098},
{"y":-3.2,"z":1,"f":0.045},{"y":-3,"z":1,"f":0.043},{"y":-2.8,"z":1,"f":0.042},{"y":-2.6,"z":1,"f":0.041},{"y":-2.4,"z":1,"f":0.04},{"y":-2.2,"z":1,"f":0.04},{"y":-2,"z":1,"f":0.04},{"y":-1.8,"z":1,"f":0.04},{"y":-1.6,"z":1,"f":0.04},{"y":-1.4,"z":1,"f":0.041},{"y":-1.2,"z":1,"f":0.042},{"y":-1,"z":1,"f":0.043},{"y":-0.8,"z":1,"f":0.044},{"y":-0.6,"z":1,"f":0.047},{"y":-0.4,"z":1,"f":0.054},{"y":-0.2,"z":1,"f":0.065},{"y":0,"z":1,"f":0.081},{"y":0.2,"z":1,"f":0.105},
{"y":-3.2,"z":1.2,"f":0.052},{"y":-3,"z":1.2,"f":0.05},{"y":-2.8,"z":1.2,"f":0.048},{"y":-2.6,"z":1.2,"f":0.047},{"y":-2.4,"z":1.2,"f":0.046},{"y":-2.2,"z":1.2,"f":0.046},{"y":-2,"z":1.2,"f":0.046},{"y":-1.8,"z":1.2,"f":0.045},{"y":-1.6,"z":1.2,"f":0.046},{"y":-1.4,"z":1.2,"f":0.046},{"y":-1.2,"z":1.2,"f":0.048},{"y":-1,"z":1.2,"f":0.05},{"y":-0.8,"z":1.2,"f":0.055},{"y":-0.6,"z":1.2,"f":0.063},{"y":-0.4,"z":1.2,"f":0.078},{"y":-0.2,"z":1.2,"f":0.095},{"y":0,"z":1.2,"f":0.115},
{"y":-3.2,"z":1.4,"f":0.058},{"y":-3,"z":1.4,"f":0.058},{"y":-2.8,"z":1.4,"f":0.055},{"y":-2.6,"z":1.4,"f":0.054},{"y":-2.4,"z":1.4,"f":0.052},{"y":-2.2,"z":1.4,"f":0.051},{"y":-2,"z":1.4,"f":0.052},{"y":-1.8,"z":1.4,"f":0.052},{"y":-1.6,"z":1.4,"f":0.055},{"y":-1.4,"z":1.4,"f":0.056},{"y":-1.2,"z":1.4,"f":0.06},{"y":-1,"z":1.4,"f":0.069},{"y":-0.8,"z":1.4,"f":0.081},{"y":-0.6,"z":1.4,"f":0.095},{"y":-0.4,"z":1.4,"f":0.118},
{"y":-3.2,"z":1.6,"f":0.078},{"y":-3,"z":1.6,"f":0.072},{"y":-2.8,"z":1.6,"f":0.071},{"y":-2.6,"z":1.6,"f":0.069},{"y":-2.4,"z":1.6,"f":0.068},{"y":-2.2,"z":1.6,"f":0.066},{"y":-2,"z":1.6,"f":0.069},{"y":-1.8,"z":1.6,"f":0.072},{"y":-1.6,"z":1.6,"f":0.078},{"y":-1.4,"z":1.6,"f":0.083},{"y":-1.2,"z":1.6,"f":0.093},{"y":-1,"z":1.6,"f":0.105},{"y":-0.8,"z":1.6,"f":0.126},
{"y":-3.2,"z":1.8,"f":0.085},{"y":-3,"z":1.8,"f":0.085},{"y":-2.8,"z":1.8,"f":0.085},{"y":-2.6,"z":1.8,"f":0.085},{"y":-2.4,"z":1.8,"f":0.085},{"y":-2.2,"z":1.8,"f":0.085},{"y":-2,"z":1.8,"f":0.09},{"y":-1.8,"z":1.8,"f":0.095},{"y":-1.6,"z":1.8,"f":0.1},{"y":-1.4,"z":1.8,"f":0.11},{"y":-1.2,"z":1.8,"f":0.12}
]},"hconcat":[{"width":800,"height":800,"layer":[
{"data":{"name":"cells"},"mark":{"type":"rect","clip":true,"binSpacing":0,"strokeWidth":1},"encoding":{"x":{"field":"y","type":"quantitative","bin":{"step":0.2,"extent":[-3.3,3.3],"nice":false},"scale":{"domain":[-3.3,3.3],"nice":false,"zero":false,"round":true},"axis":{"orient":"bottom","values":[-3,-2,-1,0,1,2,3],"format":"d","title":"y  (kpc)","labelPadding":6,"titlePadding":6}},"y":{"field":"z","type":"quantitative","bin":{"step":0.2,"extent":[-3.3,3.3],"nice":false},"scale":{"domain":[-3.3,3.3],"nice":false,"zero":false,"round":true},"axis":{"orient":"left","values":[-3,-2,-1,0,1,2,3],"format":"d","title":"z  (kpc)","labelPadding":9,"titlePadding":14}},"color":{"field":"f","type":"quantitative","legend":null,"scale":{"type":"log","interpolate":"rgb","domain":[1.17e-6,1e-5,2e-5,1e-4,2.95e-4,1e-3,2.29e-3,4.37e-3,1e-2,3.16e-2,0.1,0.2,0.537,0.74,0.89,1],"range":["#4a0060","#1c00b0","#0000e0","#055a50","#008000","#7ab000","#cfe010","#ffff10","#ffd010","#ffa010","#ff6f0a","#ff4a00","#ff2000","#c01000","#950000","#8f0000"]}},"stroke":{"field":"f","type":"quantitative","legend":null,"scale":{"type":"log","interpolate":"rgb","domain":[1.17e-6,1e-5,2e-5,1e-4,2.95e-4,1e-3,2.29e-3,4.37e-3,1e-2,3.16e-2,0.1,0.2,0.537,0.74,0.89,1],"range":["#4a0060","#1c00b0","#0000e0","#055a50","#008000","#7ab000","#cfe010","#ffff10","#ffd010","#ffa010","#ff6f0a","#ff4a00","#ff2000","#c01000","#950000","#8f0000"]}}}},
{"data":{"name":"edge"},"mark":{"type":"area","orient":"horizontal","clip":true},"encoding":{"y":{"field":"z","type":"quantitative"},"x":{"field":"y","type":"quantitative"},"x2":{"datum":3.3},"color":{"field":"f","type":"quantitative"}}},
{"data":{"name":"strips"},"mark":{"type":"rect","clip":true},"encoding":{"x":{"field":"y0","type":"quantitative"},"x2":{"field":"y1"},"y":{"field":"z0","type":"quantitative"},"y2":{"field":"z1"},"color":{"field":"f","type":"quantitative"}}},
{"data":{"name":"ticks"},"mark":{"type":"rule","color":"#000","strokeWidth":1},"encoding":{"x":{"field":"v","type":"quantitative"},"y":{"field":"a","type":"quantitative"},"y2":{"field":"b"}}},
{"data":{"name":"ticks"},"mark":{"type":"rule","color":"#000","strokeWidth":1},"encoding":{"y":{"field":"v","type":"quantitative"},"x":{"field":"a","type":"quantitative"},"x2":{"field":"b"}}}
]},{"width":30,"height":800,"layer":[
{"data":{"name":"bar"},"mark":{"type":"rect"},"encoding":{"y":{"field":"lo","type":"quantitative","scale":{"type":"log","domain":[1.17e-6,1],"nice":false,"round":true},"axis":{"orient":"right","values":[1e-5,1e-4,1e-3,1e-2,1e-1],"labelExpr":"datum.value>0.05?'10⁻¹':datum.value>0.005?'10⁻²':datum.value>0.0005?'10⁻³':datum.value>0.00005?'10⁻⁴':'10⁻⁵'","title":"Fraction","titleAngle":270,"labelPadding":7,"titlePadding":25}},"y2":{"field":"hi"},"color":{"field":"lo","type":"quantitative"}}},
{"data":{"name":"barticks"},"mark":{"type":"rule","color":"#000","strokeWidth":1},"encoding":{"y":{"field":"v","type":"quantitative"},"x":{"field":"a","type":"quantitative","scale":{"domain":[0,1],"nice":false,"zero":false},"axis":null},"x2":{"datum":1}}}
]}]}
